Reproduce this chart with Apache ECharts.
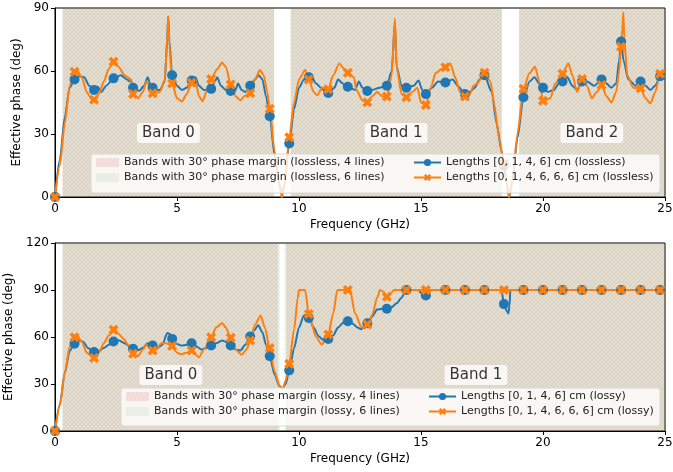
<!DOCTYPE html>
<html><head><meta charset="utf-8">
<script src="https://cdn.jsdelivr.net/npm/echarts@6/dist/echarts.min.js"></script>
<style>html,body{margin:0;padding:0;background:#fff}#c{width:673px;height:472px}</style>
</head><body><div id="c"></div>
<script>
// ---------------- DATA ----------------
const markerFreq = [0,0.8,1.6,2.4,3.2,4.0,4.8,5.6,6.4,7.2,8.0,8.8,9.6,10.4,11.2,12.0,12.8,13.6,14.4,15.2,16.0,16.8,17.6,18.4,19.2,20.0,20.8,21.6,22.4,23.2,24.0,24.8];

const topBlueMarkers   = [0,56,51,56.5,52,52,58,55.5,51.5,50.5,53,38.5,25.5,57,49.5,52.5,50.5,53,52,49,54.5,49,58,15,47.5,52,55,55,56,74,55,57.5];
const topOrangeMarkers = [0,59.7,46.3,64.4,49,49.4,54,54.4,56.2,53.6,49.4,42,28.4,56,51.3,59.2,45.1,47.8,47.5,43.8,61.8,47.8,59.2,16,51.5,45.8,58.7,56.2,53.3,71.6,51.8,58.7];
const botBlueMarkers   = [0,55.7,50.4,57.1,52.5,54.6,58.8,56,54.6,54.6,60.3,47.8,38.7,72.2,58.8,70,68.8,78,90,86.5,90,90,90,81,90,90,90,90,90,90,90,90];
const botOrangeMarkers = [0,59.9,46.6,64.6,49.3,51.4,54.2,51.4,59.9,59.5,57.8,52.9,43,74.7,61.6,90,68,85.7,90,90,90,90,90,90,90,90,90,90,90,90,90,90];

const topBlueCurve = [[0,0],[0.2,18],[0.4,38],[0.6,52],[1.0,57.5],[1.2,57],[1.4,53],[1.75,52.5],[1.9,50],[2.1,53],[2.7,58],[2.95,56],[3.05,55],[3.1,56],[3.45,50.5],[3.65,53],[3.8,57],[3.92,53],[4.1,51],[4.3,51],[4.5,55],[4.6,75],[4.64,86],[4.69,74],[5.0,53],[5.2,51],[5.4,52],[5.75,57],[5.9,53],[6.1,51],[6.55,55],[6.65,57],[6.8,53],[7.0,51],[7.4,51],[7.5,54],[7.65,51],[7.8,50],[8.2,56],[8.35,58],[8.5,56],[8.65,48],[9.0,20],[9.2,6],[9.3,1],[9.4,6],[9.8,42],[10.0,52],[10.2,56],[10.5,57.5],[10.7,54],[10.9,52],[11.1,50],[11.45,52],[11.6,56],[11.8,54],[12.3,51],[12.45,55],[12.6,52],[13.0,51],[13.3,52],[13.8,60],[13.93,83],[14.0,62],[14.2,53],[14.7,53],[14.9,55.5],[15.05,51],[15.45,52],[15.7,55],[16.3,56],[16.5,53],[17.0,50],[17.2,52],[17.4,56],[17.9,50],[18.1,35],[18.3,22],[18.5,7],[18.62,0],[18.75,8],[18.95,28],[19.45,55],[19.65,57],[19.85,54],[20.2,50],[20.45,51],[20.65,54],[21.0,57],[21.2,53],[21.4,51],[21.8,55],[22.1,53],[22.6,54],[22.8,52],[23.0,54],[23.12,65],[23.3,65],[23.5,56],[23.8,53],[24.2,53],[24.4,51],[24.6,53],[25,56]];
const topOrangeCurve = [[0,0],[0.2,15],[0.4,35],[0.6,53],[0.9,60.5],[1.1,57],[1.3,50],[1.5,46.5],[1.8,49],[2.0,55],[2.2,61],[2.6,62],[2.85,58],[3.05,56.5],[3.12,55],[3.4,47],[3.6,50],[3.75,55],[3.9,52],[4.3,50],[4.5,56],[4.6,76],[4.64,86],[4.69,72],[5.0,47],[5.2,45.5],[5.4,49],[5.75,56],[5.9,48],[6.05,45.5],[6.2,50],[6.65,61],[6.85,64],[7.0,62],[7.4,48],[7.6,46],[7.75,48],[8.2,56],[8.4,60.5],[8.55,58],[8.7,50],[9.0,22],[9.2,5],[9.3,0],[9.4,5],[9.8,45],[10.0,56],[10.25,60.5],[10.6,50],[10.75,48.5],[10.95,52],[11.4,58],[11.65,63.6],[11.85,61],[12.25,57],[12.35,51],[12.6,46],[13.0,48],[13.2,50],[13.4,48],[13.8,58],[13.93,85],[14.0,62],[14.2,49],[14.65,50],[14.85,52],[15.0,45],[15.4,52],[15.6,59],[15.85,61],[16.2,63.6],[16.4,57],[16.6,50],[17.0,49],[17.15,53],[17.3,54],[17.5,57],[17.85,55],[18.0,44],[18.2,28],[18.6,0],[18.75,8],[18.95,30],[19.45,59],[19.67,62],[19.85,55],[20.3,47],[20.5,54],[21.04,63.7],[21.2,58],[21.4,50],[21.8,53],[22.0,47],[22.2,50],[22.6,48],[22.8,45],[23.0,50],[23.12,60],[23.25,80],[23.29,88],[23.33,76],[23.45,58],[23.7,52],[24.2,47],[24.4,44.6],[24.6,50],[25,57]];
const botBlueCurve = [[0,0],[0.2,17],[0.4,37],[0.6,51],[0.95,58],[1.15,57],[1.35,53],[1.8,51],[2.0,53],[2.2,55],[2.6,58],[2.85,56],[3.05,54],[3.4,51.5],[3.6,53],[3.8,56],[4.2,53],[4.4,55],[4.6,62.5],[4.7,62],[5.0,55.5],[5.2,54.5],[5.4,55],[5.8,54],[6.0,52],[6.2,53],[6.6,56],[6.85,57.8],[7.0,57],[7.4,52],[7.6,51.4],[7.8,55],[8.15,64],[8.33,67.5],[8.5,63],[8.65,55],[9.0,36],[9.2,28.5],[9.33,27],[9.45,30],[9.8,53],[10.0,66],[10.2,73.7],[10.3,74],[10.6,66],[10.8,60.5],[11.0,58],[11.4,61],[11.6,66],[11.8,69],[12.2,68.5],[12.4,66],[12.55,65],[13.0,73],[13.2,77.5],[13.4,78],[13.8,79],[14.0,81.5],[14.2,85],[14.9,90],[15.0,88],[15.3,88],[15.4,90],[18.3,90],[18.5,77],[18.58,75],[18.63,80],[18.66,90],[25,90]];
const botOrangeCurve = [[0,0],[0.2,16],[0.4,37],[0.6,54],[0.9,61],[1.1,57],[1.3,50],[1.8,50],[2.0,56],[2.2,61],[2.6,62],[2.8,59],[3.0,55],[3.4,48],[3.6,52],[3.75,55],[3.9,53],[4.15,52],[4.35,56],[4.55,56],[5.0,50],[5.15,49],[5.4,50],[5.75,49],[5.9,47],[6.1,52],[6.6,66],[6.85,69],[7.0,66],[7.4,52],[7.65,48.7],[7.85,52],[8.2,68],[8.43,73.7],[8.6,66],[9.0,38],[9.2,29],[9.33,27],[9.45,32],[9.8,65],[9.95,85],[10.0,90],[10.25,90],[10.7,60],[10.93,55.2],[11.4,75],[11.57,90],[12.09,90],[12.3,75],[12.57,66],[13.0,74],[13.2,85],[13.32,90],[13.45,89],[13.75,88],[13.9,90],[25,90]];

const topBands4 = [[0.31, 8.98],[9.66, 18.31],[19.02, 25]];
const topBands6 = [[0.31, 8.98],[9.66, 18.31],[19.02, 25]];
const botBands4 = [[0.31, 9.15],[9.47, 25]];
const botBands6 = [[0.31, 9.22],[9.40, 25]];

const topBandLabels = [[4.65, 30.5, 'Band 0'],[13.98, 30.5, 'Band 1'],[22.0, 30.5, 'Band 2']];
const botBandLabels = [[4.75, 35.7, 'Band 0'],[17.25, 35.7, 'Band 1']];

const xTicks = {min:0, max:25, interval:5};
const topYTicks = {min:0, max:90, interval:30};
const botYTicks = {min:0, max:120, interval:30};

const names = {
  topB4: 'Bands with 30° phase margin (lossless, 4 lines)',
  topB6: 'Bands with 30° phase margin (lossless, 6 lines)',
  topL4: 'Lengths [0, 1, 4, 6] cm (lossless)',
  topL6: 'Lengths [0, 1, 4, 6, 6, 6] cm (lossless)',
  botB4: 'Bands with 30° phase margin (lossy, 4 lines)',
  botB6: 'Bands with 30° phase margin (lossy, 6 lines)',
  botL4: 'Lengths [0, 1, 4, 6] cm (lossy)',
  botL6: 'Lengths [0, 1, 4, 6, 6, 6] cm (lossy)'
};

// ---------------- BUILD ----------------
const BLUE = '#1f77b4', ORANGE = '#ff7f0e';
const XSYM = 'path://M0,2.5 L2.5,0 L5,2.5 L7.5,0 L10,2.5 L7.5,5 L10,7.5 L7.5,10 L5,7.5 L2.5,10 L0,7.5 L2.5,5 Z';
const FONT = 'DejaVu Sans';

function hatch(bg, line, dir) {
  const s = 4, c = document.createElement('canvas');
  c.width = s; c.height = s;
  const g = c.getContext('2d');
  g.fillStyle = bg; g.fillRect(0, 0, s, s);
  g.strokeStyle = line; g.lineWidth = 0.8;
  g.beginPath();
  for (let k = -1; k <= 1; k++) {
    if (dir > 0) { g.moveTo(k*s, s); g.lineTo(k*s + s, 0); }
    else { g.moveTo(k*s, 0); g.lineTo(k*s + s, s); }
  }
  g.stroke();
  return {image: c, repeat: 'repeat'};
}
const redHatch = hatch('rgba(214,39,40,0.14)', 'rgba(214,39,40,0.14)', 1);
const greenHatch = hatch('rgba(44,160,44,0.075)', 'rgba(44,160,44,0.11)', -1);

function build(curve, markers, sym, size) {
  const pts = curve.filter(p => !markerFreq.some(m => Math.abs(m - p[0]) < 0.04))
                   .map(p => ({value: p, symbol: 'none'}));
  markerFreq.forEach((m, i) => pts.push({value: [m, markers[i]], symbol: sym, symbolSize: size}));
  pts.sort((a, b) => a.value[0] - b.value[0]);
  return pts;
}

function bandSeries(name, bands, pattern, gi) {
  return {
    type: 'scatter', name: name, xAxisIndex: gi, yAxisIndex: gi, data: [],
    symbol: 'rect', itemStyle: {color: pattern}, z: 1,
    markArea: {silent: true, itemStyle: {color: pattern, borderWidth: 0},
      data: bands.map(b => [{xAxis: b[0]}, {xAxis: b[1]}])}
  };
}
function lineSeries(name, data, color, sym, size, gi) {
  return {
    type: 'line', name: name, xAxisIndex: gi, yAxisIndex: gi, data: data,
    symbol: sym, symbolSize: size, showSymbol: true, showAllSymbol: true,
    smooth: 0.25, smoothMonotone: 'x',
    lineStyle: {color: color, width: 2}, itemStyle: {color: color}, z: 2, animation: false
  };
}
function labelSeries(data, gi) {
  return {
    type: 'scatter', xAxisIndex: gi, yAxisIndex: gi, data: data, symbolSize: 0, z: 5, silent: true,
    label: {show: true, position: 'inside', formatter: p => p.data[2], fontFamily: FONT, fontSize: 15,
      color: '#000', backgroundColor: '#fff', padding: [3, 5, 2, 5], borderRadius: 3}
  };
}
function xAxis(gi) {
  return {gridIndex: gi, type: 'value', min: xTicks.min, max: xTicks.max, interval: xTicks.interval,
    name: 'Frequency (GHz)', nameLocation: 'middle', nameGap: 22,
    nameTextStyle: {fontFamily: FONT, fontSize: 12, color: '#000'},
    axisLine: {onZero: false, lineStyle: {color: '#000', width: 1}},
    axisTick: {inside: false, length: 4, lineStyle: {color: '#000'}},
    axisLabel: {fontFamily: FONT, fontSize: 12, color: '#000', margin: 6},
    splitLine: {show: false}};
}
function yAxis(gi, t) {
  return {gridIndex: gi, type: 'value', min: t.min, max: t.max, interval: t.interval,
    name: 'Effective phase (deg)', nameLocation: 'middle', nameGap: 27,
    nameTextStyle: {fontFamily: FONT, fontSize: 12, color: '#000'},
    axisLine: {onZero: false, lineStyle: {color: '#000', width: 1}},
    axisTick: {inside: false, length: 4, lineStyle: {color: '#000'}},
    axisLabel: {fontFamily: FONT, fontSize: 12, color: '#000', margin: 6},
    splitLine: {show: false}};
}
function legend(names2, left, top, iconW, lineType) {
  return {
    orient: 'vertical', left: left, top: top, itemGap: 4, itemWidth: iconW, itemHeight: 9,
    selectedMode: false, padding: 0, z: 6,
    textStyle: {fontFamily: FONT, fontSize: 11, color: '#222'},
    data: names2.map(n => lineType ? {name: n} : {name: n, icon: 'rect'})
  };
}

const option = {
  animation: false,
  grid: [
    {left: 55, right: 8, top: 8, height: 189, containLabel: false, outerBoundsMode: 'none',
     show: true, borderColor: '#000', borderWidth: 1, backgroundColor: 'transparent'},
    {left: 55, right: 8, top: 243, height: 188, containLabel: false, outerBoundsMode: 'none',
     show: true, borderColor: '#000', borderWidth: 1, backgroundColor: 'transparent'}
  ],
  xAxis: [xAxis(0), xAxis(1)],
  yAxis: [yAxis(0, topYTicks), yAxis(1, botYTicks)],
  legend: [
    legend([names.topB4, names.topB6], 96, 157, 23, false),
    legend([names.topL4, names.topL6], 413, 157, 27, true),
    legend([names.botB4, names.botB6], 126, 391, 23, false),
    legend([names.botL4, names.botL6], 428, 391, 27, true)
  ],
  graphic: [
    {type: 'rect', z: 3, shape: {x: 91, y: 154, width: 569, height: 39, r: 3},
     style: {fill: 'rgba(255,255,255,0.8)', stroke: '#d8d8d8', lineWidth: 1}},
    {type: 'rect', z: 3, shape: {x: 121, y: 388, width: 539, height: 38, r: 3},
     style: {fill: 'rgba(255,255,255,0.8)', stroke: '#d8d8d8', lineWidth: 1}}
  ],
  series: [
    bandSeries(names.topB4, topBands4, redHatch, 0),
    bandSeries(names.topB6, topBands6, greenHatch, 0),
    lineSeries(names.topL4, build(topBlueCurve, topBlueMarkers, 'circle', 10), BLUE, 'circle', 10, 0),
    lineSeries(names.topL6, build(topOrangeCurve, topOrangeMarkers, XSYM, 10), ORANGE, XSYM, 10, 0),
    labelSeries(topBandLabels, 0),
    bandSeries(names.botB4, botBands4, redHatch, 1),
    bandSeries(names.botB6, botBands6, greenHatch, 1),
    lineSeries(names.botL4, build(botBlueCurve, botBlueMarkers, 'circle', 10), BLUE, 'circle', 10, 1),
    lineSeries(names.botL6, build(botOrangeCurve, botOrangeMarkers, XSYM, 10), ORANGE, XSYM, 10, 1),
    labelSeries(botBandLabels, 1)
  ]
};
const chart = echarts.init(document.getElementById('c'), null, {renderer: 'canvas'});
chart.setOption(option);
</script>
</body></html>
